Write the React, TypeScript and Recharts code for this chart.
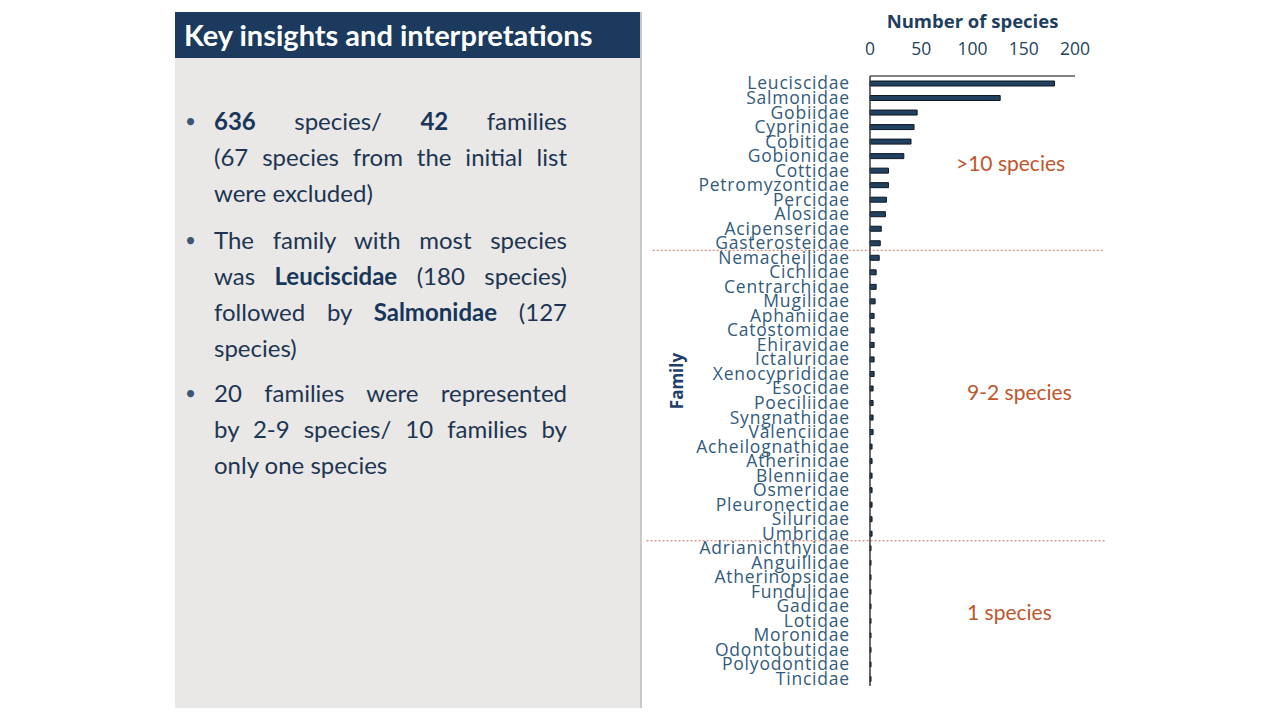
import React from 'react';
import { BarChart, Bar, XAxis, YAxis, ReferenceLine } from 'recharts';

const families = [
  'Leuciscidae', 'Salmonidae', 'Gobiidae', 'Cyprinidae', 'Cobitidae', 'Gobionidae',
  'Cottidae', 'Petromyzontidae', 'Percidae', 'Alosidae', 'Acipenseridae', 'Gasterosteidae',
  'Nemacheilidae', 'Cichlidae', 'Centrarchidae', 'Mugilidae', 'Aphaniidae', 'Catostomidae',
  'Ehiravidae', 'Ictaluridae', 'Xenocyprididae', 'Esocidae', 'Poeciliidae', 'Syngnathidae',
  'Valenciidae', 'Acheilognathidae', 'Atherinidae', 'Blenniidae', 'Osmeridae', 'Pleuronectidae',
  'Siluridae', 'Umbridae', 'Adrianichthyidae', 'Anguillidae', 'Atherinopsidae', 'Fundulidae',
  'Gadidae', 'Lotidae', 'Moronidae', 'Odontobutidae', 'Polyodontidae', 'Tincidae',
];

const speciesCounts = [
  180, 127, 46, 43, 40, 33, 18, 18, 16, 15, 11, 10,
  9, 6, 6, 5, 4, 4, 4, 4, 4, 3, 3, 3, 3, 2, 2, 2, 2, 2, 2, 2,
  1, 1, 1, 1, 1, 1, 1, 1, 1, 1,
];

const xTicks = [0, 50, 100, 150, 200];
const groupBoundaries = [11.5, 31.5];
const boundaryStartX = [-212, -218];
const boundaryEndX = 229;
const groupLabels = ['>10 species', '9-2 species', '1 species'];

const data = families.map((family, idx) => ({ idx, family, species: speciesCounts[idx] }));

const tickFont = { fontFamily: '"Open Sans", sans-serif', fontSize: 17.5, fill: '#325b7c', letterSpacing: 0.8 };

const FamilyLabel = (props: any) => {
  const vb = props.viewBox || {};
  const cx = vb.x + 36;
  const cy = vb.y + vb.height / 2;
  return (
    <text
      x={cx}
      y={cy}
      transform={`rotate(-90 ${cx} ${cy})`}
      textAnchor="middle"
      dominantBaseline="central"
      fontFamily='"Open Sans", sans-serif'
      fontWeight={700}
      fontSize={17}
      fill="#1f4068"
    >
      Family
    </text>
  );
};

const B = ({ children }: { children: React.ReactNode }) => (
  <span style={{ fontWeight: 700, color: '#17365a' }}>{children}</span>
);

type Line = { content: React.ReactNode; justify: boolean };

const paragraphs: Line[][] = [
  [
    { content: <><B>636</B> species/ <B>42</B> families</>, justify: true },
    { content: <>(67 species from the initial list</>, justify: true },
    { content: <>were excluded)</>, justify: false },
  ],
  [
    { content: <>The family with most species</>, justify: true },
    { content: <>was <B>Leuciscidae</B> (180 species)</>, justify: true },
    { content: <>followed by <B>Salmonidae</B> (127</>, justify: true },
    { content: <>species)</>, justify: false },
  ],
  [
    { content: <>20 families were represented</>, justify: true },
    { content: <>by 2-9 species/ 10 families by</>, justify: true },
    { content: <>only one species</>, justify: false },
  ],
];

const paragraphGaps = [45, 11, 9];

export default function App() {
  return (
    <div style={{ position: 'absolute', left: 0, top: 0, width: 1280, height: 720, background: '#ffffff', overflow: 'hidden' }}>
      {/* Left panel */}
      <div style={{ position: 'absolute', left: 175, top: 12, width: 465, height: 696, background: '#e9e8e6', borderRight: '2px solid #c9c8c6' }}>
        <div style={{ height: 46, background: '#1b3a5e', color: '#ffffff', fontFamily: 'Lato, sans-serif', fontWeight: 700, fontSize: 29, lineHeight: '46px', paddingLeft: 9, whiteSpace: 'nowrap' }}>
          Key insights and interpretations
        </div>
        <div style={{ fontFamily: 'Lato, sans-serif', fontSize: 24, color: '#1d3552', lineHeight: '36px' }}>
          {paragraphs.map((lines, i) => (
            <div key={i} style={{ position: 'relative', marginLeft: 39, width: 353, marginTop: paragraphGaps[i] }}>
              <span style={{ position: 'absolute', left: -29, top: 0, fontSize: 19, color: '#3d5876' }}>•</span>
              {lines.map((ln, j) => (
                <div
                  key={j}
                  style={{
                    whiteSpace: 'nowrap',
                    textAlign: ln.justify ? 'justify' : 'left',
                    textAlignLast: ln.justify ? 'justify' : 'left',
                  }}
                >
                  {ln.content}
                </div>
              ))}
            </div>
          ))}
        </div>
      </div>

      {/* Chart */}
      <div style={{ position: 'absolute', left: 640, top: 0 }}>
        <BarChart
          width={480}
          height={720}
          data={data}
          layout="vertical"
          margin={{ top: 0, right: 45, bottom: 34, left: 0 }}
        >
          <XAxis
            type="number"
            orientation="top"
            dataKey="species"
            domain={[0, 200]}
            ticks={xTicks}
            height={76}
            tickLine={false}
            tickSize={6}
            tickMargin={15}
            axisLine={{ stroke: '#5a5a5a', strokeWidth: 1.5 }}
            tick={{ fontFamily: '"Open Sans", sans-serif', fontSize: 17.5, fill: '#24435f' }}
            label={{ value: 'Number of species', position: 'insideTop', offset: 15, fontFamily: '"Open Sans", sans-serif', fontWeight: 700, fontSize: 18.5, fill: '#1f3f60' }}
          />
          <YAxis
            type="number"
            dataKey="idx"
            domain={[-0.5, families.length - 0.5]}
            ticks={families.map((_, i) => i)}
            interval={0}
            tickFormatter={(v: number) => families[v]}
            width={230}
            tickLine={false}
            tickSize={6}
            tickMargin={14}
            axisLine={{ stroke: '#3a3a3a', strokeWidth: 1.5 }}
            tick={tickFont}
            label={<FamilyLabel />}
          />
          {groupBoundaries.map((b, i) => (
            <ReferenceLine
              key={b}
              segment={[{ x: boundaryStartX[i], y: b }, { x: boundaryEndX, y: b }]}
              ifOverflow="visible"
              stroke="#c8705e"
              strokeDasharray="2 2"
              strokeWidth={1}
            />
          ))}
          <Bar dataKey="species" barSize={5} fill="#22405f" stroke="#0c1826" strokeWidth={1} isAnimationActive={false} />
        </BarChart>
      </div>

      {/* Group annotations */}
      {groupLabels.map((t, i) => (
        <div
          key={t}
          style={{
            position: 'absolute',
            left: [956, 967, 967][i],
            top: [150, 379, 599][i],
            fontFamily: 'Lato, sans-serif',
            fontSize: 21,
            color: '#c0562c',
            lineHeight: '26px',
            whiteSpace: 'nowrap',
          }}
        >
          {t}
        </div>
      ))}
    </div>
  );
}
